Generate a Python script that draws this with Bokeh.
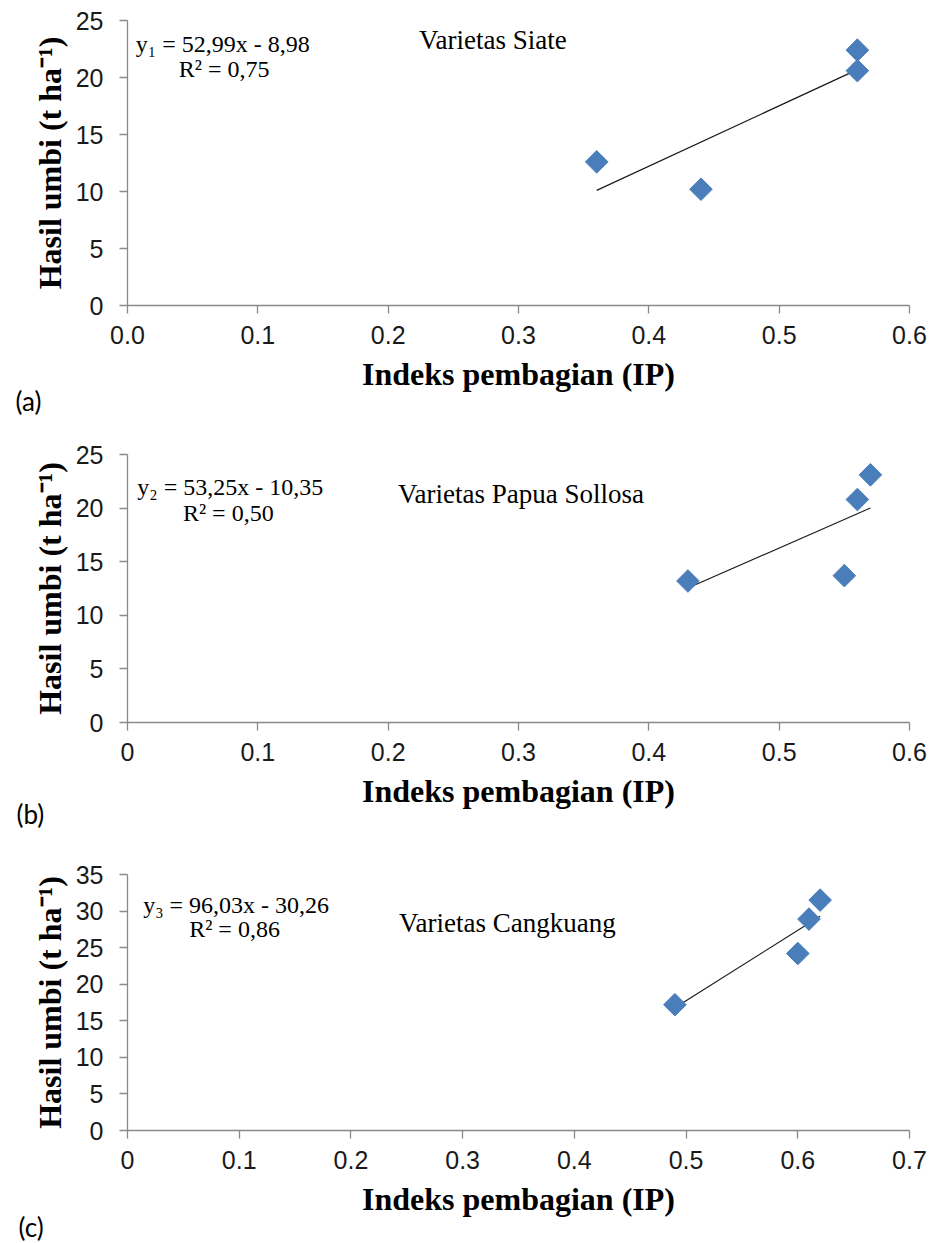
import numpy as np
from bokeh.plotting import figure
from bokeh.layouts import column
from bokeh.models import Range1d, FixedTicker, Label, Title
from bokeh.embed import file_html
from bokeh.resources import INLINE

# ---------------- data ----------------
ip_a = [0.36, 0.44, 0.56, 0.56]
yield_a = [12.6, 10.2, 22.4, 20.6]
ip_b = [0.43, 0.55, 0.56, 0.57]
yield_b = [13.2, 13.7, 20.8, 23.1]
ip_c = [0.49, 0.60, 0.61, 0.62]
yield_c = [17.2, 24.2, 28.9, 31.5]

slopes = [52.99, 53.25, 96.03]
intercepts = [-8.98, -10.35, -30.26]
equations = ["y\u2081 = 52,99x - 8,98", "y\u2082 = 53,25x - 10,35", "y\u2083 = 96,03x - 30,26"]
r2_texts = ["R\u00b2 = 0,75", "R\u00b2 = 0,50", "R\u00b2 = 0,86"]
varieties = ["Varietas Siate", "Varietas Papua Sollosa", "Varietas Cangkuang"]
panel_tags = ["(a)", "(b)", "(c)"]

x_ticks_a = [0.0, 0.1, 0.2, 0.3, 0.4, 0.5, 0.6]
x_labels_a = ["0.0", "0.1", "0.2", "0.3", "0.4", "0.5", "0.6"]
x_ticks_b = [0.0, 0.1, 0.2, 0.3, 0.4, 0.5, 0.6]
x_labels_b = ["0", "0.1", "0.2", "0.3", "0.4", "0.5", "0.6"]
x_ticks_c = [0.0, 0.1, 0.2, 0.3, 0.4, 0.5, 0.6, 0.7]
x_labels_c = ["0", "0.1", "0.2", "0.3", "0.4", "0.5", "0.6", "0.7"]
y_ticks_ab = [0, 5, 10, 15, 20, 25]
y_ticks_c = [0, 5, 10, 15, 20, 25, 30, 35]

x_title = "Indeks pembagian (IP)"
y_title = "Hasil umbi (t ha\u207b\u00b9)"

AXIS_COL = "#898989"
MARK_COL = "#4A7EBB"


def make_panel(xs, ys, slope, icpt, xticks, xlabels, yticks, eq, r2, var, tag,
               width, height, mb_left, mb_right, mb_top, mb_bottom,
               eq_pos, r2_pos, var_pos, tag_offset, tag_standoff):
    p = figure(width=width, height=height, output_backend="svg", toolbar_location=None,
               x_range=Range1d(xticks[0], xticks[-1]), y_range=Range1d(yticks[0], yticks[-1]),
               min_border_left=mb_left, min_border_right=mb_right,
               min_border_top=mb_top, min_border_bottom=mb_bottom)
    p.outline_line_color = None
    p.grid.grid_line_color = None
    p.background_fill_color = "white"
    p.border_fill_color = "white"

    for ax in (p.xaxis[0], p.yaxis[0]):
        ax.axis_line_color = AXIS_COL
        ax.axis_line_width = 1.3
        ax.major_tick_line_color = AXIS_COL
        ax.major_tick_line_width = 1.3
        ax.major_tick_out = 8
        ax.major_tick_in = 0
        ax.minor_tick_line_color = None
        ax.major_label_text_font = "Liberation Sans"
        ax.major_label_text_font_size = "25px"
        ax.major_label_text_color = "#1a1a1a"
        ax.axis_label_text_font = "Liberation Serif"
        ax.axis_label_text_font_style = "bold"
        ax.axis_label_text_font_size = "32px"
        ax.axis_label_text_color = "black"

    p.xaxis.ticker = FixedTicker(ticks=xticks)
    p.xaxis.major_label_overrides = {t: l for t, l in zip(xticks, xlabels)}
    p.yaxis.ticker = FixedTicker(ticks=yticks)
    p.xaxis.axis_label = x_title
    p.yaxis.axis_label = y_title
    p.xaxis.major_label_standoff = 12
    p.yaxis.major_label_standoff = 16
    p.xaxis.axis_label_standoff = 9
    p.yaxis.axis_label_standoff = 5

    # trend line from regression equation
    x0, x1 = min(xs), max(xs)
    p.line([x0, x1], [slope * x0 + icpt, slope * x1 + icpt], line_color="#1a1a1a", line_width=1.2)

    p.scatter(xs, ys, marker="square", angle=np.pi / 4, size=16,
              fill_color=MARK_COL, line_color=MARK_COL)

    p.add_layout(Label(x=eq_pos[0], y=eq_pos[1], text=eq, text_font="Liberation Serif",
                       text_font_size="24px", text_color="black", text_baseline="alphabetic"))
    p.add_layout(Label(x=r2_pos[0], y=r2_pos[1], text=r2, text_font="Liberation Serif",
                       text_font_size="24px", text_color="black", text_baseline="alphabetic"))
    p.add_layout(Label(x=var_pos[0], y=var_pos[1], text=var, text_font="Liberation Serif",
                       text_font_size="27px", text_color="black", text_baseline="alphabetic"))
    p.add_layout(Title(text=tag, align="left", offset=tag_offset, standoff=tag_standoff,
                       text_font="Lato", text_font_size="26px", text_font_style="normal",
                       text_color="black"), "below")
    return p


pa = make_panel(ip_a, yield_a, slopes[0], intercepts[0], x_ticks_a, x_labels_a, y_ticks_ab,
                equations[0], r2_texts[0], varieties[0], panel_tags[0],
                width=939, height=425, mb_left=127, mb_right=30, mb_top=20, mb_bottom=120,
                eq_pos=(0.0064, 22.9), r2_pos=(0.0393, 20.76), var_pos=(0.2236, 23.25),
                tag_offset=-112, tag_standoff=-24)
pb = make_panel(ip_b, yield_b, slopes[1], intercepts[1], x_ticks_b, x_labels_b, y_ticks_ab,
                equations[1], r2_texts[1], varieties[1], panel_tags[1],
                width=939, height=415, mb_left=119, mb_right=23, mb_top=29, mb_bottom=118,
                eq_pos=(0.0075, 21.97), r2_pos=(0.0425, 19.5), var_pos=(0.2076, 21.36),
                tag_offset=-111, tag_standoff=-37)
pc = make_panel(ip_c, yield_c, slopes[2], intercepts[2], x_ticks_c, x_labels_c, y_ticks_c,
                equations[2], r2_texts[2], varieties[2], panel_tags[2],
                width=939, height=403, mb_left=117, mb_right=20, mb_top=34, mb_bottom=113,
                eq_pos=(0.014, 30.81), r2_pos=(0.0552, 27.49), var_pos=(0.243, 28.31),
                tag_offset=-109, tag_standoff=-21)

layout = column(pa, pb, pc, spacing=0)
open("out.html", "w").write(file_html(layout, INLINE))
